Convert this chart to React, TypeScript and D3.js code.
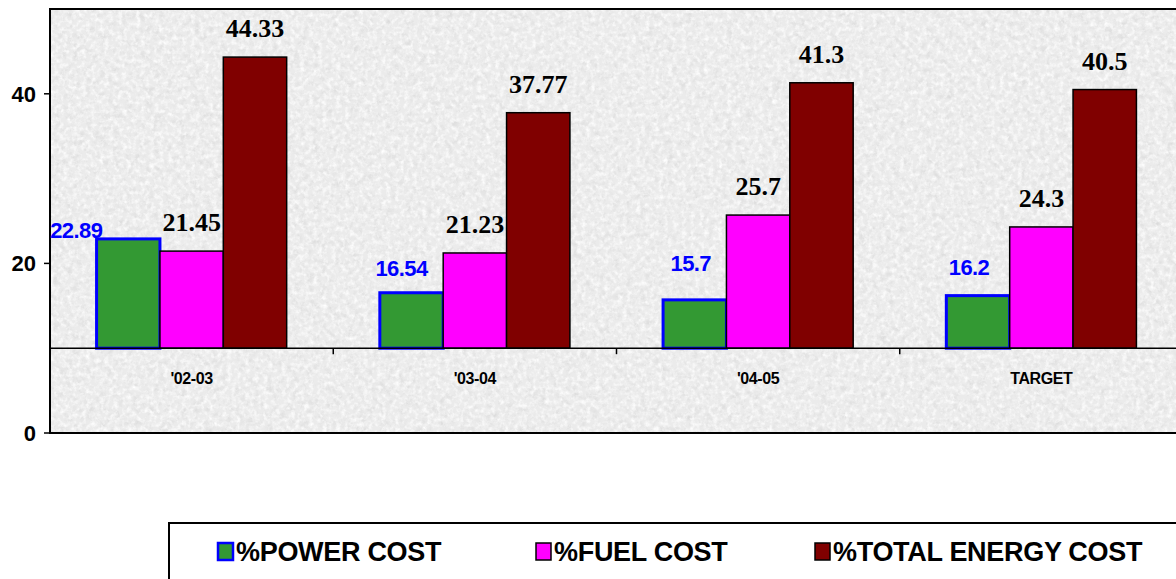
import { useMemo } from "react"
import * as d3 from "d3"

const categories = ["'02-03", "'03-04", "'04-05", "TARGET"]
const powerCost = [22.89, 16.54, 15.7, 16.2]
const fuelCost = [21.45, 21.23, 25.7, 24.3]
const totalEnergyCost = [44.33, 37.77, 41.3, 40.5]
const yTicks = [0, 20, 40]
const seriesNames = ["%POWER COST", "%FUEL COST", "%TOTAL ENERGY COST"]

// label nudges for the blue power labels (Excel moved them around a bit)
const powerLabelShift: [number, number][] = [
  [-52, -1],
  [-10, -17],
  [-4, -29],
  [-9, -21],
]

const W = 1176
const H = 579
const plot = { left: 50, top: 9, right: 1183, bottom: 433 }
const baseValue = 10

export default function App() {
  const y = useMemo(
    () => d3.scaleLinear().domain([0, 50]).range([plot.bottom, plot.top]),
    []
  )
  const x0 = useMemo(
    () => d3.scaleBand<string>().domain(categories).range([plot.left, plot.right]).padding(0),
    []
  )
  const x1 = useMemo(
    () =>
      d3
        .scaleBand<string>()
        .domain(seriesNames)
        .range([0, x0.bandwidth()])
        .paddingInner(0)
        .paddingOuter(0.735),
    [x0]
  )

  const series = [
    { name: seriesNames[0], values: powerCost, fill: "#339933", stroke: "#0000ff", sw: 3 },
    { name: seriesNames[1], values: fuelCost, fill: "#ff00ff", stroke: "#000000", sw: 1.5 },
    { name: seriesNames[2], values: totalEnergyCost, fill: "#800000", stroke: "#000000", sw: 1.5 },
  ]

  const axisY = y(baseValue)
  const sans = "Arial, 'Liberation Sans', sans-serif"

  return (
    <svg
      width={W}
      height={H}
      style={{ position: "absolute", left: 0, top: 0, background: "#fff" }}
    >
      <defs>
        <filter id="granite" x="0" y="0" width="100%" height="100%">
          <feTurbulence type="fractalNoise" baseFrequency="0.15" numOctaves="4" seed="7" result="noise" />
          <feColorMatrix
            in="noise"
            type="matrix"
            values="0 0 0 0 0.68  0 0 0 0 0.68  0 0 0 0 0.68  1.6 0 0 0 -0.72"
            result="spots"
          />
          <feTurbulence type="fractalNoise" baseFrequency="0.22" numOctaves="3" seed="19" result="noise2" />
          <feColorMatrix
            in="noise2"
            type="matrix"
            values="0 0 0 0 1  0 0 0 0 1  0 0 0 0 1  2 0 0 0 -0.85"
            result="white"
          />
          <feMerge>
            <feMergeNode in="SourceGraphic" />
            <feMergeNode in="spots" />
            <feMergeNode in="white" />
          </feMerge>
        </filter>
      </defs>

      {/* plot background */}
      <rect
        x={plot.left}
        y={plot.top}
        width={plot.right - plot.left}
        height={plot.bottom - plot.top}
        fill="#ebebeb"
        filter="url(#granite)"
      />
      <path
        d={`M${plot.right},${plot.top}H${plot.left}V${plot.bottom}H${plot.right}`}
        fill="none"
        stroke="#000"
        strokeWidth={2}
      />

      {/* y ticks */}
      {yTicks.map((t) => (
        <g key={t}>
          <line x1={44} x2={plot.left} y1={y(t)} y2={y(t)} stroke="#000" strokeWidth={1.5} />
          <text
            x={36}
            y={y(t)}
            dy="0.36em"
            textAnchor="end"
            fontFamily={sans}
            fontWeight="bold"
            fontSize={22}
          >
            {t}
          </text>
        </g>
      ))}

      {/* bars */}
      {series.map((s) =>
        categories.map((c, i) => {
          const bx = (x0(c) ?? 0) + (x1(s.name) ?? 0)
          const top = y(s.values[i])
          return (
            <rect
              key={s.name + c}
              x={bx}
              y={top}
              width={x1.bandwidth()}
              height={axisY - top}
              fill={s.fill}
              stroke={s.stroke}
              strokeWidth={s.sw}
            />
          )
        })
      )}

      {/* category axis */}
      <line x1={plot.left} x2={plot.right} y1={axisY} y2={axisY} stroke="#000" strokeWidth={1.5} />
      {categories.slice(1).map((c) => (
        <line
          key={c}
          x1={x0(c)}
          x2={x0(c)}
          y1={axisY}
          y2={axisY + 6}
          stroke="#000"
          strokeWidth={1.5}
        />
      ))}
      {categories.map((c) => (
        <text
          key={c}
          x={(x0(c) ?? 0) + x0.bandwidth() / 2}
          y={384}
          textAnchor="middle"
          fontFamily={sans}
          fontWeight="bold"
          fontSize={16}
          letterSpacing={-0.4}
        >
          {c}
        </text>
      ))}

      {/* labels */}
      {categories.map((c, i) => {
        const bx = (x0(c) ?? 0) + (x1(seriesNames[0]) ?? 0) + x1.bandwidth() / 2
        const [dx, dy] = powerLabelShift[i]
        return (
          <text
            key={"p" + c}
            x={bx + dx}
            y={y(powerCost[i]) + dy}
            textAnchor="middle"
            fill="#0000ff"
            fontFamily={sans}
            fontWeight="bold"
            fontSize={22}
            letterSpacing={-0.6}
          >
            {powerCost[i]}
          </text>
        )
      })}
      {series.slice(1).map((s) =>
        categories.map((c, i) => (
          <text
            key={"l" + s.name + c}
            x={(x0(c) ?? 0) + (x1(s.name) ?? 0) + x1.bandwidth() / 2}
            y={y(s.values[i]) - 20}
            textAnchor="middle"
            fill="#000"
            fontFamily="'Times New Roman', 'Liberation Serif', serif"
            fontWeight="bold"
            fontSize={26}
          >
            {s.values[i]}
          </text>
        ))
      )}

      {/* legend */}
      <rect x={169} y={523} width={1020} height={70} fill="#fff" stroke="#000" strokeWidth={2} />
      {series.map((s, i) => {
        const lx = [218, 536, 815][i]
        return (
          <g key={"lg" + s.name}>
            <rect
              x={lx}
              y={543}
              width={15}
              height={17}
              fill={s.fill}
              stroke={s.stroke}
              strokeWidth={i === 0 ? 2.5 : 1.5}
            />
            <text
              x={lx + 18}
              y={561}
              fontFamily={sans}
              fontWeight="bold"
              fontSize={27}
              letterSpacing={-0.3}
            >
              {s.name}
            </text>
          </g>
        )
      })}
    </svg>
  )
}
